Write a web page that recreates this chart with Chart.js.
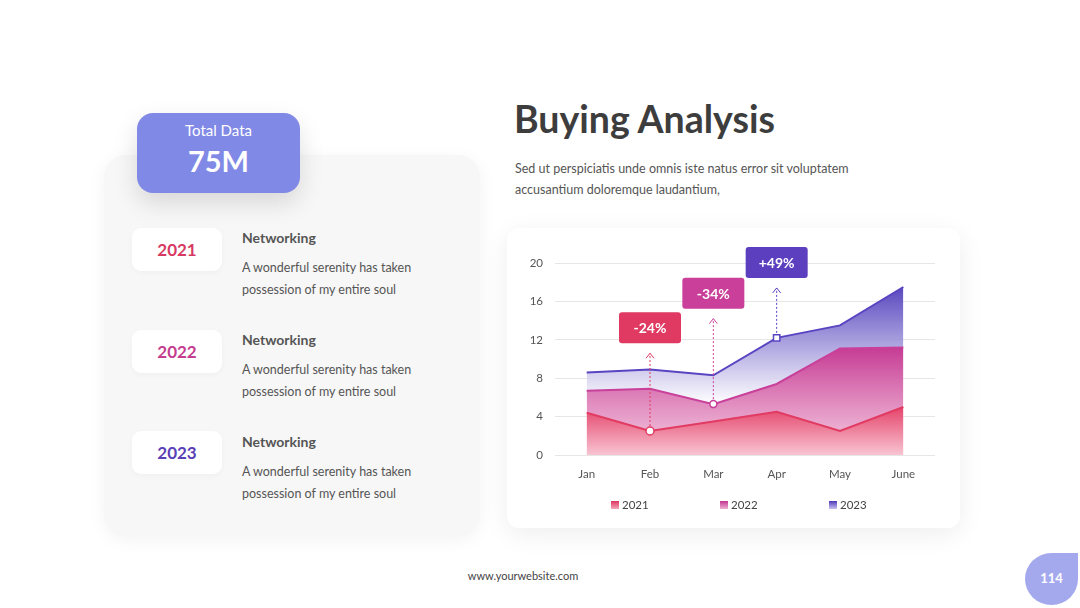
<!DOCTYPE html>
<html>
<head>
<meta charset="utf-8">
<script src="https://cdn.jsdelivr.net/npm/chart.js@4.4.0/dist/chart.umd.min.js"></script>
<style>
    html, body { margin: 0; padding: 0; }
    body {
        width: 1080px; height: 608px; position: relative; overflow: hidden;
        background: #fff; font-family: Lato, 'Open Sans', sans-serif; color: #555;
    }
    .panel {
        position: absolute; left: 104px; top: 155px; width: 376px; height: 381px;
        background: #f7f7f7; border-radius: 22px; box-shadow: 0 4px 18px rgba(0,0,0,0.05);
    }
    .total {
        position: absolute; left: 137px; top: 113px; width: 163px; height: 80px;
        background: #8089e5; border-radius: 16px; box-shadow: 0 10px 24px rgba(0,0,0,0.13);
        color: #fff; text-align: center;
    }
    .total .lbl { font-size: 15px; line-height: 18px; margin-top: 8px; }
    .total .val { font-size: 29px; font-weight: 700; line-height: 34px; margin-top: 5px; }
    .year {
        position: absolute; left: 132px; width: 90px; height: 43px; background: #fff;
        border-radius: 9px; font-weight: 700; font-size: 17px; text-align: center;
        line-height: 44px; box-shadow: 0 2px 6px rgba(0,0,0,0.03);
    }
    .item { position: absolute; left: 242px; }
    .item h4 { margin: 0; font-size: 14px; line-height: 18px; font-weight: 700; color: #555; }
    .item p { margin: 10px 0 0; font-size: 12.5px; line-height: 22px; color: #555; }
    .title {
        position: absolute; left: 514px; top: 94px; margin: 0;
        font-size: 37.5px; font-weight: 700; color: #3d3d3d; line-height: 50px;
    }
    .sub {
        position: absolute; left: 515px; top: 158px; margin: 0;
        font-size: 12.5px; line-height: 21px; color: #555;
    }
    .card {
        position: absolute; left: 507px; top: 228px; width: 453px; height: 300px;
        background: #fff; border-radius: 12px; box-shadow: 0 6px 26px rgba(0,0,0,0.07);
    }
    .card canvas { position: absolute; left: 0; top: 0; }
    .legend { position: absolute; left: 104px; top: 270px; display: flex; }
    .legend span { display: flex; align-items: center; width: 109px; font-size: 11.5px; color: #444; }
    .legend i { display: inline-block; width: 8px; height: 8px; margin-right: 3px; }
    .footer { position: absolute; left: 0; width: 1046px; top: 569px; text-align: center; font-size: 11px; color: #444; }
    .page {
        position: absolute; left: 1025px; top: 553px; width: 53px; height: 52px;
        background: #a4a9ee; border-radius: 50% 0 50% 50%; color: #fff;
        font-size: 13px; font-weight: 700; text-align: center; line-height: 50px;
    }
</style>
</head>
<body>
    <div class="panel"></div>
    <div class="total"><div class="lbl">Total Data</div><div class="val">75M</div></div>

    <div class="year" style="top:228px;color:#d63a63">2021</div>
    <div class="item" style="top:229px"><h4>Networking</h4><p>A wonderful serenity has taken<br>possession of my entire soul</p></div>
    <div class="year" style="top:330px;color:#c43d8f">2022</div>
    <div class="item" style="top:331px"><h4>Networking</h4><p>A wonderful serenity has taken<br>possession of my entire soul</p></div>
    <div class="year" style="top:431px;color:#5a3fb5">2023</div>
    <div class="item" style="top:433px"><h4>Networking</h4><p>A wonderful serenity has taken<br>possession of my entire soul</p></div>

    <h1 class="title">Buying Analysis</h1>
    <p class="sub">Sed ut perspiciatis unde omnis iste natus error sit voluptatem<br>accusantium doloremque laudantium,</p>

    <div class="card">
        <canvas id="buyChart" width="453" height="300"></canvas>
        <div class="legend">
            <span><i style="background:linear-gradient(#dd3560,#f3a6ba)"></i>2021</span>
            <span><i style="background:linear-gradient(#c2358f,#eeb0d3)"></i>2022</span>
            <span><i style="background:linear-gradient(#4d39b8,#c8c2f0)"></i>2023</span>
        </div>
    </div>

    <div class="footer">www.yourwebsite.com</div>
    <div class="page">114</div>

<script>
    const months = ['Jan', 'Feb', 'Mar', 'Apr', 'May', 'June'];
    const years = ['2021', '2022', '2023'];
    const sales2021 = [4.4, 2.5, 3.5, 4.5, 2.5, 5.0];
    const sales2022 = [6.7, 6.9, 5.3, 7.4, 11.1, 11.2];
    const sales2023 = [8.6, 8.9, 8.3, 12.2, 13.5, 17.5];
    const yTicks = [0, 4, 8, 12, 16, 20];

    // callouts: which month, which series, text, and where the arrow tip ends (in axis units)
    const noteMonths = ['Feb', 'Mar', 'Apr'];
    const noteSeries = [0, 1, 2];
    const noteLabels = ['-24%', '-34%', '+49%'];
    const noteTips = [10.6, 14.2, 17.4];

    const lineColors = ['#e23b62', '#c8409a', '#5a44c2'];
    const noteColors = ['#e03a63', '#c93f99', '#5b3fbf'];
    const fillStops = [
        ['rgba(229,64,102,0.95)', 'rgba(248,196,210,0.95)'],
        ['rgba(200,52,143,0.93)', 'rgba(244,205,226,0.93)'],
        ['rgba(80,62,188,0.95)', 'rgba(255,255,255,0.9)']
    ];
    const seriesData = [sales2021, sales2022, sales2023];

    function areaFill(i) {
        return (ctx) => {
            const chart = ctx.chart;
            const area = chart.chartArea;
            if (!area) return fillStops[i][0];
            const y = chart.scales.y;
            const top = y.getPixelForValue(Math.max(...seriesData[i]));
            const bottom = i === 2 ? y.getPixelForValue(Math.min(...sales2022)) : area.bottom;
            const g = chart.ctx.createLinearGradient(0, top, 0, bottom);
            g.addColorStop(0, fillStops[i][0]);
            g.addColorStop(1, fillStops[i][1]);
            return g;
        };
    }

    function markerRadius(i) {
        const n = noteSeries.indexOf(i);
        return months.map(m => (n >= 0 && noteMonths[n] === m ? [4, 3.5, 4.5][i] : 0));
    }

    const calloutPlugin = {
        id: 'callouts',
        afterDatasetsDraw(chart) {
            const { ctx, scales: { x, y } } = chart;
            noteMonths.forEach((m, n) => {
                const idx = months.indexOf(m);
                const px = x.getPixelForValue(idx);
                const py = y.getPixelForValue(seriesData[noteSeries[n]][idx]);
                const tip = y.getPixelForValue(noteTips[n]);
                const col = noteColors[n];
                ctx.save();
                ctx.strokeStyle = col;
                ctx.lineWidth = 1;
                ctx.setLineDash([2, 2]);
                ctx.beginPath();
                ctx.moveTo(px, py - 5);
                ctx.lineTo(px, tip);
                ctx.stroke();
                ctx.setLineDash([]);
                ctx.beginPath();
                ctx.moveTo(px - 4, tip + 5);
                ctx.lineTo(px, tip);
                ctx.lineTo(px + 4, tip + 5);
                ctx.stroke();
                const w = 62, h = 31;
                const bx = px - w / 2, by = tip - 10 - h;
                ctx.fillStyle = col;
                ctx.beginPath();
                ctx.roundRect(bx, by, w, h, 3);
                ctx.fill();
                ctx.fillStyle = '#fff';
                ctx.font = 'bold 14px Lato, sans-serif';
                ctx.textAlign = 'center';
                ctx.textBaseline = 'middle';
                ctx.fillText(noteLabels[n], px, by + h / 2 + 1);
                ctx.restore();
            });
        }
    };

    const buyChart = new Chart(document.getElementById('buyChart'), {
        type: 'line',
        data: {
            labels: months,
            datasets: years.map((yr, i) => ({
                label: yr,
                data: seriesData[i],
                borderColor: lineColors[i],
                borderWidth: 2,
                backgroundColor: areaFill(i),
                fill: 'origin',
                tension: 0,
                pointRadius: markerRadius(i),
                pointStyle: i === 2 ? 'rect' : 'circle',
                pointBackgroundColor: '#fff',
                pointBorderColor: lineColors[i],
                pointBorderWidth: 1.5
            }))
        },
        options: {
            responsive: false,
            animation: false,
            layout: { padding: { top: 35, right: 25, bottom: 40, left: 0 } },
            plugins: {
                legend: { display: false },
                tooltip: { enabled: false }
            },
            scales: {
                x: {
                    offset: true,
                    grid: { display: false, drawTicks: false },
                    border: { display: false },
                    ticks: { color: '#555', font: { family: 'Lato', size: 11.5 }, padding: 12 },
                    afterFit: (s) => { s.height = 33; }
                },
                y: {
                    min: yTicks[0],
                    max: yTicks[yTicks.length - 1],
                    afterBuildTicks: (s) => { s.ticks = yTicks.map(v => ({ value: v })); },
                    grid: { color: '#e6e6e6', drawTicks: false },
                    border: { display: false },
                    ticks: { color: '#555', font: { family: 'Lato', size: 11.5 }, padding: 12 },
                    afterFit: (s) => { s.width = 48; }
                }
            }
        },
        plugins: [calloutPlugin]
    });
</script>
</body>
</html>
